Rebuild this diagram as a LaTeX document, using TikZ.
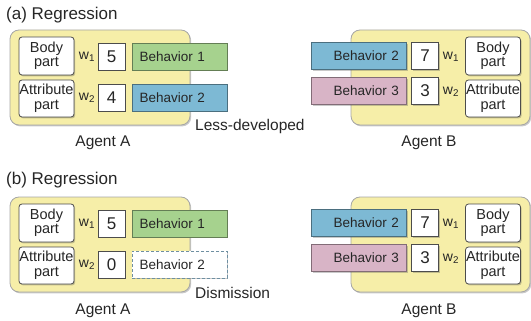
\documentclass[tikz,border=0pt]{standalone}
\usepackage{fontspec}
\setmainfont{Liberation Sans}
\usetikzlibrary{shadows,positioning}

\definecolor{agentyellow}{HTML}{F6EEA8}
\definecolor{behgreen}{HTML}{A6D28E}
\definecolor{behblue}{HTML}{7DB9D4}
\definecolor{behpink}{HTML}{D8B4C6}
\definecolor{dismissed}{HTML}{6E8FA2}

\tikzset{
  softshadow/.style={drop shadow={shadow xshift=1.2pt, shadow yshift=-1.4pt, opacity=.3, fill=black!70}},
  agent/.style={draw=black!35, line width=0.8pt, fill=agentyellow, rounded corners=9pt,
    minimum width=180, minimum height=95, softshadow},
  part/.style={draw=black!70, line width=0.8pt, fill=white, rounded corners=3pt, softshadow,
    minimum width=55, minimum height=38, inner sep=0pt, align=center,
    font=\fontsize{14.5}{14.5}\selectfont},
  weight/.style={draw=black!70, line width=0.8pt, fill=white, softshadow, minimum size=27,
    inner sep=0pt, font=\fontsize{17}{17}\selectfont},
  wlabel/.style={inner sep=0pt, font=\fontsize{14}{14}\selectfont},
  behA/.style={line width=0.8pt, softshadow, minimum height=27, text width=80pt, inner xsep=7.5pt,
    align=left, font=\fontsize{13.5}{14}\selectfont},
  behB/.style={behA, align=right},
  caption/.style={inner sep=0pt, font=\fontsize{15.5}{16}\selectfont},
  paneltitle/.style={inner sep=0pt, anchor=west, font=\fontsize{17}{17}\selectfont}
}

\begin{document}
\begin{tikzpicture}[x=1pt, y=-1pt, every node/.style={text=black!85}]
  \useasboundingbox (0,0) rectangle (531,321);

  % ---------- (a) ----------
  \node[paneltitle] (titleA) at (6,15) {(a) Regression};

  % Agent A
  \node[agent] (agentAa) at (100,77.5) {};
  \node[part] (bodyAa) at (46.5,56) {Body\\part};
  \node[part, minimum height=37] (attrAa) at (46.5,98.5) {Attribute\\part};
  \node[wlabel] (wAa1) at (87,57) {w\textsubscript{1}};
  \node[wlabel] (wAa2) at (87,98) {w\textsubscript{2}};
  \node[weight] (nAa1) at (111.5,56.5) {5};
  \node[weight] (nAa2) at (111.5,97.5) {4};
  \node[behA, draw=behgreen!60!black, fill=behgreen] (behAa1) at (179.5,56.5) {Behavior 1};
  \node[behA, draw=behblue!60!black, fill=behblue] (behAa2) at (179.5,97.5) {Behavior 2};
  \node[caption, anchor=west] (lessdev) at (195,126) {Less-developed};
  \node[caption] (capAa) at (103,143) {Agent A};

  % Agent B
  \node[agent, minimum width=179] (agentBa) at (440.5,77.5) {};
  \node[behB, draw=behblue!60!black, fill=behblue] (behBa1) at (359,56) {Behavior 2};
  \node[behB, draw=behpink!60!black, fill=behpink] (behBa2) at (359,91) {Behavior 3};
  \node[weight] (nBa1) at (425,56) {7};
  \node[weight] (nBa2) at (425,91) {3};
  \node[wlabel] (wBa1) at (451,57) {w\textsubscript{1}};
  \node[wlabel] (wBa2) at (451,92) {w\textsubscript{2}};
  \node[part] (bodyBa) at (493,56) {Body\\part};
  \node[part, minimum height=37] (attrBa) at (493,98.5) {Attribute\\part};
  \node[caption] (capBa) at (429,143) {Agent B};

  % ---------- (b) ----------
  \node[paneltitle] (titleB) at (6,180) {(b) Regression};

  % Agent A
  \node[agent] (agentAb) at (100,244.5) {};
  \node[part] (bodyAb) at (46.5,223) {Body\\part};
  \node[part, minimum height=37] (attrAb) at (46.5,265.5) {Attribute\\part};
  \node[wlabel] (wAb1) at (87,224) {w\textsubscript{1}};
  \node[wlabel] (wAb2) at (87,265) {w\textsubscript{2}};
  \node[weight] (nAb1) at (111.5,223.5) {5};
  \node[weight] (nAb2) at (111.5,264.5) {0};
  \node[behA, draw=behgreen!60!black, fill=behgreen] (behAb1) at (179.5,223.5) {Behavior 1};
  \node[behA, draw=dismissed, dashed, dash pattern=on 3pt off 2pt, fill=white] (behAb2) at (179.5,264.5) {Behavior 2};
  \node[caption, anchor=west] (dismiss) at (195,293) {Dismission};
  \node[caption] (capAb) at (103,311) {Agent A};

  % Agent B
  \node[agent, minimum width=179] (agentBb) at (440.5,244.5) {};
  \node[behB, draw=behblue!60!black, fill=behblue] (behBb1) at (359,223) {Behavior 2};
  \node[behB, draw=behpink!60!black, fill=behpink] (behBb2) at (359,258) {Behavior 3};
  \node[weight] (nBb1) at (425,223) {7};
  \node[weight] (nBb2) at (425,258) {3};
  \node[wlabel] (wBb1) at (451,224) {w\textsubscript{1}};
  \node[wlabel] (wBb2) at (451,259) {w\textsubscript{2}};
  \node[part] (bodyBb) at (493,223) {Body\\part};
  \node[part, minimum height=37] (attrBb) at (493,265.5) {Attribute\\part};
  \node[caption] (capBb) at (429,311) {Agent B};
\end{tikzpicture}
\end{document}
